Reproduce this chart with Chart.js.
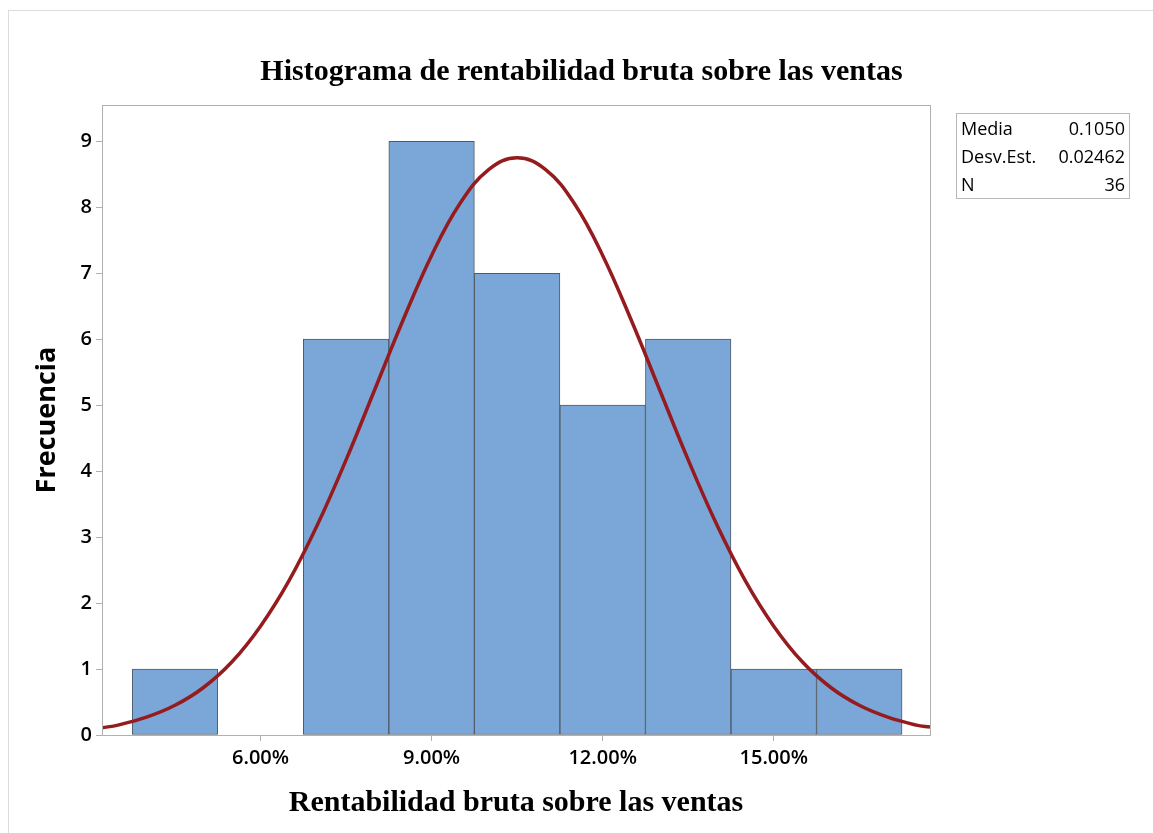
<!DOCTYPE html>
<html>
<head>
<meta charset="utf-8">
<script src="https://cdn.jsdelivr.net/npm/chart.js@4/dist/chart.umd.min.js"></script>
<style>
  body { margin: 0; background: #fff; }
  #wrap { position: relative; width: 1153px; height: 833px; }
  #frame { position: absolute; left: 8px; top: 10px; right: 0; bottom: 0; border-left: 1px solid #dcdcdc; border-top: 1px solid #dcdcdc; }
  #histChart { position: absolute; left: 0; top: 0; }
  #stats {
    position: absolute; left: 956px; top: 113px; width: 174px;
    border: 1px solid #b8b8b8; font-family: "Open Sans", sans-serif; font-size: 18px;
    color: #000; border-collapse: collapse;
  }
  #stats td { padding: 0 4px; line-height: 28px; white-space: nowrap; }
  #stats td.v { text-align: right; padding-left: 0; }
</style>
</head>
<body>
<div id="wrap">
  <div id="frame"></div>
  <canvas id="histChart" width="1153" height="833"></canvas>
  <table id="stats">
    <tr><td>Media</td><td class="v">0.1050</td></tr>
    <tr><td>Desv.Est.</td><td class="v">0.02462</td></tr>
    <tr><td>N</td><td class="v">36</td></tr>
  </table>
</div>
<script>
const histCtx = document.querySelector('#histChart').getContext('2d');

// Histogram bins (centers in %) and counts
const binCenters = [4.5, 6.0, 7.5, 9.0, 10.5, 12.0, 13.5, 15.0, 16.5];
const frequencies = [1, 0, 6, 9, 7, 5, 6, 1, 1];

// Fitted normal curve
const curveX = [3.22, 3.5, 4.0, 4.5, 5.0, 5.5, 6.0, 6.5, 7.0, 7.5, 8.0, 8.5, 9.0, 9.5, 10.0, 10.5,
                11.0, 11.5, 12.0, 12.5, 13.0, 13.5, 14.0, 14.5, 15.0, 15.5, 16.0, 16.5, 17.0, 17.5, 17.74];
const curveY = [0.11, 0.15, 0.27, 0.45, 0.72, 1.11, 1.65, 2.34, 3.19, 4.17, 5.23, 6.29, 7.27, 8.06, 8.57, 8.75,
                8.57, 8.06, 7.27, 6.29, 5.23, 4.17, 3.19, 2.34, 1.65, 1.11, 0.72, 0.45, 0.27, 0.15, 0.12];

const xTickValues = [6, 9, 12, 15];
const yTickValues = [0, 1, 2, 3, 4, 5, 6, 7, 8, 9];

const tickFont = { family: 'Open Sans', size: 20, weight: '600' };

// plot frame on all four sides
const frameBox = {
    id: 'frameBox',
    afterDraw(chart) {
        const { ctx, chartArea: a } = chart;
        ctx.save();
        ctx.strokeStyle = '#b0b0b0';
        ctx.lineWidth = 1;
        ctx.strokeRect(a.left + 0.5, a.top + 0.5, a.right - a.left, a.bottom - a.top);
        ctx.restore();
    }
};

let histChart = new Chart(histCtx, {
    type: 'bar',
    data: {
        datasets: [
            {
                type: 'line',
                data: curveX.map((x, i) => ({ x: x, y: curveY[i] })),
                borderColor: '#961B1E',
                borderWidth: 3.5,
                pointRadius: 0,
                tension: 0.4,
                order: 0
            },
            {
                type: 'bar',
                data: binCenters.map((x, i) => ({ x: x, y: frequencies[i] })),
                backgroundColor: '#7BA7D8',
                borderColor: '#4F5A66',
                borderWidth: 1,
                borderSkipped: false,
                barPercentage: 1,
                categoryPercentage: 1,
                order: 1
            }
        ]
    },
    options: {
        responsive: false,
        animation: false,
        layout: {
            padding: { left: 10, right: 0, top: 0, bottom: 12 }
        },
        plugins: {
            legend: { display: false },
            tooltip: { enabled: false },
            title: {
                display: true,
                text: 'Histograma de rentabilidad bruta sobre las ventas',
                color: '#000',
                font: { family: 'Liberation Serif', size: 30, weight: 'bold' },
                padding: { top: 54, bottom: 15 }
            }
        },
        scales: {
            x: {
                type: 'linear',
                min: 3.22,
                max: 17.74,
                offset: false,
                afterBuildTicks: (scale) => {
                    scale.ticks = xTickValues.map(v => ({ value: v }));
                },
                afterFit: (scale) => { scale.height = 86; },
                ticks: {
                    color: '#000',
                    font: tickFont,
                    padding: 5,
                    maxRotation: 0,
                    callback: (v) => v.toFixed(2) + '%'
                },
                grid: { drawOnChartArea: false, color: '#b0b0b0', tickLength: 6, offset: false },
                border: { color: '#b0b0b0' },
                title: {
                    display: true,
                    text: 'Rentabilidad bruta sobre las ventas',
                    color: '#000',
                    font: { family: 'Liberation Serif', size: 30, weight: 'bold' },
                    padding: { top: 4, bottom: 0 }
                }
            },
            y: {
                min: 0,
                max: 9.55,
                afterBuildTicks: (scale) => {
                    scale.ticks = yTickValues.map(v => ({ value: v }));
                },
                afterFit: (scale) => { scale.width = 92; },
                ticks: { color: '#000', font: tickFont, padding: 4 },
                grid: { drawOnChartArea: false, color: '#b0b0b0', tickLength: 6 },
                border: { color: '#b0b0b0' },
                title: {
                    display: true,
                    text: 'Frecuencia',
                    color: '#000',
                    font: { family: 'Open Sans', size: 27, weight: 'bold' },
                    padding: { top: 21, bottom: 0 }
                }
            },
            side: {
                position: 'right',
                display: true,
                ticks: { display: false },
                grid: { display: false },
                border: { display: false },
                afterFit: (scale) => { scale.width = 223; }
            }
        }
    },
    plugins: [frameBox]
});
</script>
</body>
</html>
